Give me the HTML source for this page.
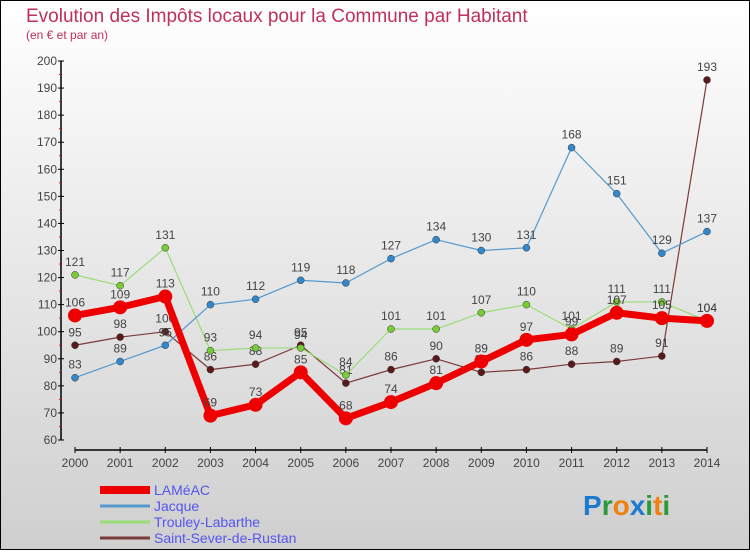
<!DOCTYPE html>
<html><head><meta charset="utf-8"><style>
html,body{margin:0;padding:0}
body{width:750px;height:550px;overflow:hidden;font-family:"Liberation Sans",sans-serif}
</style></head><body>
<svg id="chart" width="750" height="550" xmlns="http://www.w3.org/2000/svg" font-family="Liberation Sans, sans-serif">
<defs><linearGradient id="bg" x1="0" y1="0" x2="0" y2="1"><stop offset="0" stop-color="#ffffff"/><stop offset="1" stop-color="#cfcfcf"/></linearGradient></defs>
<rect x="0.5" y="0.5" width="749" height="549" fill="url(#bg)" stroke="#000" stroke-width="1"/>
<text x="26" y="22" font-size="19" fill="#c0305a">Evolution des Impôts locaux pour la Commune par Habitant</text>
<text x="26" y="39" font-size="12" fill="#c0305a">(en € et par an)</text>
<g id="axes"></g><g id="series"></g><g id="legend"></g>
<text x="583" y="515" font-size="28" font-weight="bold"><tspan fill="#1a7ad0">P</tspan><tspan fill="#2a9a3a">r</tspan><tspan fill="#f08010">o</tspan><tspan fill="#1a7ad0">x</tspan><tspan fill="#2a9a3a">i</tspan><tspan fill="#f08010">t</tspan><tspan fill="#2a9a3a">i</tspan></text>
</svg>
<script>
const years=[2000,2001,2002,2003,2004,2005,2006,2007,2008,2009,2010,2011,2012,2013,2014];
const yTicks=[60,70,80,90,100,110,120,130,140,150,160,170,180,190,200];
const lameac=[106,109,113,69,73,85,68,74,81,89,97,99,107,105,104];
const jacque=[83,89,95,110,112,119,118,127,134,130,131,168,151,129,137];
const trouley=[121,117,131,93,94,94,84,101,101,107,110,101,111,111,104];
const saintSever=[95,98,100,86,88,95,81,86,90,85,86,88,89,91,193];
const NS="http://www.w3.org/2000/svg";
const x=i=>75+i*(707-75)/14;
const y=v=>440-(v-60)*(440-61)/140;
function mk(tag,attrs,parent,text){const e=document.createElementNS(NS,tag);for(const k in attrs)e.setAttribute(k,attrs[k]);if(text!==undefined)e.textContent=text;parent.appendChild(e);return e;}
const axes=document.getElementById('axes');
let e=mk('line',{x1:61,y1:y(200),x2:61,y2:y(60),stroke:'#000','stroke-width':1.5},axes);

e=mk('line',{x1:x(0),y1:450,x2:x(14),y2:450,stroke:'#000','stroke-width':1.5},axes);

yTicks.forEach(v=>{mk('line',{x1:58,y1:y(v),x2:64,y2:y(v),stroke:'#000'},axes);
 if(v<200)mk('line',{x1:59,y1:y(v+5),x2:61,y2:y(v+5),stroke:'#f00'},axes);
 e=mk('text',{x:57,y:y(v)+4,'font-size':12,'text-anchor':'end',fill:'#444'},axes,v);
 });
years.forEach((yr,i)=>{mk('line',{x1:x(i),y1:447,x2:x(i),y2:453,stroke:'#000'},axes);
 e=mk('text',{x:x(i),y:467,'font-size':12,'text-anchor':'middle',fill:'#444'},axes,yr);
 });
const series=[
 {name:'saint-sever-de-rustan',label:'Saint-Sever-de-Rustan',data:saintSever,color:'#7a3a3a',dot:'#5a1a1a',w:1.2,r:3.5},
 {name:'trouley-labarthe',label:'Trouley-Labarthe',data:trouley,color:'#99dd77',dot:'#77cc33',w:1.2,r:3.5},
 {name:'jacque',label:'Jacque',data:jacque,color:'#5599cc',dot:'#3388cc',w:1.2,r:3.5},
 {name:'lameac',label:'LAMéAC',data:lameac,color:'#ee0000',dot:'#ee0000',w:7,r:7}];
const sg=document.getElementById('series');
series.forEach(s=>{const g=mk('g',{},sg);
 
 const p=mk('polyline',{points:s.data.map((v,i)=>x(i)+','+y(v)).join(' '),fill:'none',stroke:s.color,'stroke-width':s.w,'stroke-linejoin':'round'},g);
 
 s.data.forEach((v,i)=>{const c=mk('circle',{cx:x(i),cy:y(v),r:s.r,fill:s.dot,stroke:s.w>2?'none':'#333','stroke-width':0.5},g);
  
  const t=mk('text',{x:x(i),y:y(v)-9,'font-size':12,'text-anchor':'middle',fill:'#444'},g,v);
  });});
const lg=document.getElementById('legend');
const order=[3,2,1,0];
order.forEach((si,k)=>{const s=series[si];const yy=495+k*16;
 const g=mk('g',{},lg);
 mk('line',{x1:100,y1:yy-5,x2:150,y2:yy-5,stroke:s.color,'stroke-width':s.w>2?8:3},g);
 mk('text',{x:154,y:yy,'font-size':14,fill:'#5555ee'},g,s.label);});
</script>
</body></html>
